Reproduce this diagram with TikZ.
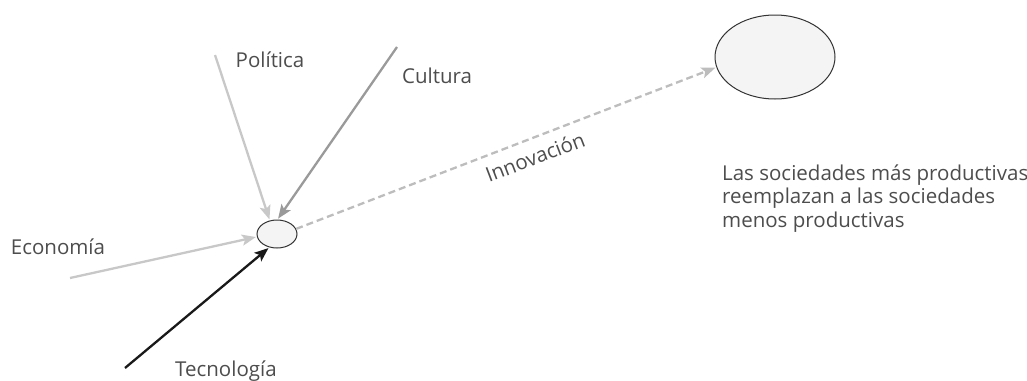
\documentclass[tikz,border=0pt]{standalone}
\usepackage{fontspec}
\setmainfont{Open Sans}
\usepackage{tikz}
\usetikzlibrary{arrows.meta}
\usetikzlibrary{shapes.geometric}

\definecolor{txtgray}{HTML}{4D4D4D}
\definecolor{lightline}{HTML}{C8C8C8}
\definecolor{midline}{HTML}{9A9A9A}
\definecolor{dashline}{HTML}{BDBDBD}
\definecolor{cellfill}{HTML}{F4F4F4}

\tikzset{
  cell/.style={ellipse, draw=black!80, line width=1pt, fill=cellfill, inner sep=0pt},
  lbl/.style={text=txtgray, font=\fontsize{20.5}{23.5}\selectfont, inner sep=0pt},
  force/.style={line width=2.3pt, -{Stealth[length=14pt,width=11pt,inset=3pt]}, shorten >=1pt},
}

\begin{document}
\begin{tikzpicture}[x=1pt,y=-1pt]
\useasboundingbox (0,0) rectangle (1027,380);

% los dos estados
\node[cell, minimum width=40pt, minimum height=28pt] (nucleo) at (277,234) {};
\node[cell, minimum width=120pt, minimum height=84pt] (sociedad) at (775,57) {};

% origen de cada fuerza
\coordinate (politica) at (215,55);
\coordinate (cultura) at (397,47);
\coordinate (economia) at (70,278);
\coordinate (tecnologia) at (125,368);

\draw [force, lightline] (politica) -- (nucleo.118);
\draw [force, midline] (cultura) -- (nucleo.88);
\draw [force, lightline] (economia) -- (nucleo.188);
\draw [force, black!90] (tecnologia) -- (nucleo.240);
\draw [force, dashline, dash pattern=on 7pt off 4pt] (nucleo.15) -- (sociedad.190);

\node[lbl, anchor=base] (tpolitica) at (270,67) {Política};
\node[lbl, anchor=base] (tcultura) at (437,83) {Cultura};
\node[lbl, anchor=base] (teconomia) at (58,254) {Economía};
\node[lbl, anchor=base west] (ttecnologia) at (175,376) {Tecnología};
\node[lbl, rotate=21] (tinnovacion) at (535,157) {Innovación};
\node[lbl, anchor=base west, align=left] (tsociedad) at (722,227)
  {Las sociedades más productivas\\reemplazan a las sociedades\\menos productivas};
\end{tikzpicture}
\end{document}
